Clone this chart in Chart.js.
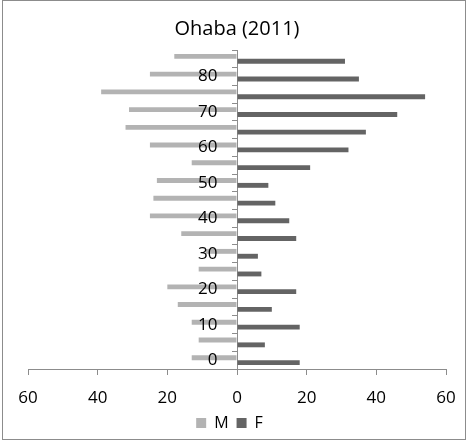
<!DOCTYPE html>
<html>
<head>
<meta charset="utf-8">
<script src="https://cdn.jsdelivr.net/npm/chart.js@4/dist/chart.umd.min.js"></script>
<style>
  html, body { margin: 0; padding: 0; background: #fff; }
  #wrap { position: relative; width: 467px; height: 441px; }
</style>
</head>
<body>
<div id="wrap"><canvas id="c" width="467" height="441"></canvas></div>
<script>
// Age groups (lower bound of each 5-year band)
const ageGroups = ['0','5','10','15','20','25','30','35','40','45','50','55','60','65','70','75','80','85'];
// Persons per age group
const males   = [13, 11, 13, 17, 20, 11, 9, 16, 25, 24, 23, 13, 25, 32, 31, 39, 25, 18];
const females = [18, 8, 18, 10, 17, 7, 6, 17, 15, 11, 9, 21, 32, 37, 46, 54, 35, 31];
const xTicks = [-60, -40, -20, 0, 20, 40, 60];

const FONT = "'Open Sans', 'Liberation Sans', sans-serif";
const AXIS_GREY = '#8c8c8c';
// figure spaces keep the age labels clear of the central axis
const LABEL_GAP = '\u2007\u2007';

// white page with a thin grey outline around the whole chart
const frame = {
  id: 'frame',
  beforeDraw(chart) {
    const ctx = chart.ctx;
    ctx.save();
    ctx.fillStyle = '#fff';
    ctx.fillRect(0, 0, chart.width, chart.height);
    ctx.strokeStyle = '#8c8c8c';
    ctx.lineWidth = 1;
    ctx.strokeRect(2.5, 0.5, 463, 439);
    ctx.restore();
  }
};

// nudge the legend row slightly left of centre
const legendNudge = {
  id: 'legendNudge',
  afterLayout(chart) {
    if (chart.legend) {
      chart.legend.left -= 7.5;
      chart.legend.right -= 7.5;
    }
  }
};

new Chart(document.getElementById('c'), {
  type: 'bar',
  data: {
    labels: ageGroups,
    datasets: [
      { label: 'M', data: males.map(v => -v), backgroundColor: '#b3b3b3' },
      { label: 'F', data: females, backgroundColor: '#646464' }
    ]
  },
  options: {
    indexAxis: 'y',
    responsive: false,
    animation: false,
    layout: { padding: { left: 28, right: 21, top: 0, bottom: 0 } },
    datasets: { bar: { categoryPercentage: 0.55, barPercentage: 1.0 } },
    plugins: {
      title: {
        display: true,
        text: 'Ohaba (2011)',
        color: '#000',
        font: { family: FONT, size: 20, weight: 'normal' },
        padding: { top: 17.5, bottom: 8.5 }
      },
      legend: {
        position: 'bottom',
        labels: {
          color: '#000',
          font: { family: FONT, size: 16 },
          boxWidth: 10,
          boxHeight: 10,
          padding: 8
        }
      },
      tooltip: { enabled: false }
    },
    scales: {
      x: {
        min: -60,
        max: 60,
        afterBuildTicks(scale) { scale.ticks = xTicks.map(v => ({ value: v })); },
        afterFit(scale) {
          scale.height = 38;
          scale.paddingRight = 12;
          scale.paddingLeft = 12;
        },
        ticks: {
          color: '#000',
          font: { family: FONT, size: 17 },
          padding: 13,
          maxRotation: 0,
          callback: v => String(Math.abs(v))
        },
        grid: { display: true, drawOnChartArea: false, drawTicks: true, tickLength: 6, color: AXIS_GREY },
        border: { display: true, color: AXIS_GREY }
      },
      y: {
        position: { x: 0 },
        reverse: true,
        ticks: {
          z: 1,
          color: '#000',
          font: { family: FONT, size: 17 },
          autoSkip: false,
          callback: function (value) {
            const lbl = this.getLabelForValue(value);
            return Number(lbl) % 10 === 0 ? lbl + LABEL_GAP : '';
          }
        },
        grid: { display: true, offset: true, drawOnChartArea: false, drawTicks: true, tickLength: 5, color: AXIS_GREY },
        border: { display: true, color: AXIS_GREY }
      }
    }
  },
  plugins: [frame, legendNudge]
});
</script>
</body>
</html>
